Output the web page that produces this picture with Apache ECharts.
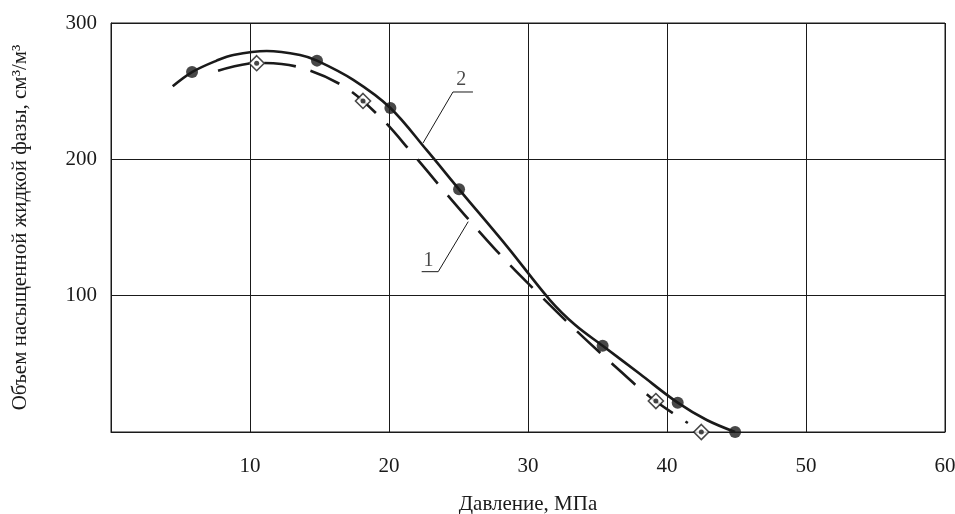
<!DOCTYPE html>
<html>
<head>
<meta charset="utf-8">
<script src="https://cdn.jsdelivr.net/npm/echarts@6/dist/echarts.min.js"></script>
<style>html,body{margin:0;padding:0;background:#fff}#c{width:955px;height:514px}</style>
</head>
<body>
<div id="c"></div>
<script>
// Curve 2 (solid) traced points [pressure, volume]
const curve2 = [[4.44,253.6],[5.83,264],[7.6,272.4],[8.8,276.6],[11.2,279.5],[13.6,276.6],[14.82,272.4],[17.43,258.3],[20.1,237.7],[22.7,206.9],[25.04,178],[28.5,136],[31.58,96.8],[33.4,78.5],[35.37,63.3],[38.06,42.5],[40.77,21.5],[42.86,8.8],[44.9,0]];
// Curve 1 (dashed) traced points
const curve1 = [[7.7,264.9],[10.5,270.7],[13.45,267.8],[16.7,253.8],[19.35,231.1],[21.65,204.7],[23.9,177.5],[26.2,150.4],[28.56,124],[31.0,99],[33.5,74.1],[36.0,50.6],[38.78,25.7],[41.5,6.6]];
// Measured points
const points2 = [[5.83,264],[14.82,272.4],[20.1,237.7],[25.04,178],[35.37,63.3],[40.77,21.5],[44.9,0]];
const points1 = [[10.48,270.5],[18.13,242.8],[39.2,22.7],[42.47,0]];
// Leader lines for curve labels
const leader2 = [[26.04,249.4],[24.6,249.4],[22.45,212]];
const leader1 = [[22.35,117.6],[23.54,117.6],[25.7,154.3]];
const labels = [[25.2,251,'2'],[22.85,118.5,'1']];
const xTicks = [10,20,30,40,50,60];
const yTicks = [100,200,300];

const font = 'Liberation Serif, Times New Roman, serif';
const ink = '#1a1a1a';
const chart = echarts.init(document.getElementById('c'));
chart.setOption({
  animation: false,
  backgroundColor: '#fff',
  grid: {left: 111, right: 10, top: 23, bottom: 82, containLabel: false, outerBoundsMode: 'none',
    show: true, borderColor: ink, borderWidth: 1},
  xAxis: {
    type: 'value', min: 0, max: 60, interval: 10,
    name: 'Давление, МПа', nameLocation: 'middle', nameGap: 62,
    nameTextStyle: {fontFamily: font, fontSize: 21, color: ink},
    axisLine: {lineStyle: {color: ink, width: 1}},
    axisTick: {show: false},
    axisLabel: {margin: 24, fontFamily: font, fontSize: 21, color: ink,
      formatter: v => xTicks.includes(v) ? String(v) : ''},
    splitLine: {show: true, lineStyle: {color: ink, width: 1}}
  },
  yAxis: {
    type: 'value', min: 0, max: 300, interval: 100,
    name: 'Объем насыщенной жидкой фазы, см³/м³', nameLocation: 'middle', nameGap: 80,
    nameTextStyle: {fontFamily: font, fontSize: 21, color: ink},
    axisLine: {show: true, lineStyle: {color: ink, width: 1}},
    axisTick: {show: false},
    axisLabel: {margin: 14, fontFamily: font, fontSize: 21, color: ink,
      formatter: v => yTicks.includes(v) ? String(v) : ''},
    splitLine: {show: true, lineStyle: {color: ink, width: 1}}
  },
  series: [
    {type: 'line', data: curve2, smooth: 0.35, showSymbol: false, clip: false,
      lineStyle: {color: ink, width: 2.6}, z: 3},
    {type: 'line', data: curve1, smooth: 0.35, showSymbol: false, clip: false,
      lineStyle: {color: ink, width: 2.6, type: [32, 15]}, z: 3},
    {type: 'scatter', data: points2, symbol: 'circle', symbolSize: 12, clip: false,
      itemStyle: {color: ink}, z: 5},
    {type: 'scatter', data: points1, symbol: 'diamond', symbolSize: 15, clip: false,
      itemStyle: {color: '#fff', borderColor: ink, borderWidth: 1.6}, z: 5},
    {type: 'scatter', data: points1, symbol: 'circle', symbolSize: 5, clip: false,
      itemStyle: {color: ink}, z: 6},
    {type: 'line', data: leader2, showSymbol: false, lineStyle: {color: ink, width: 1}, z: 4},
    {type: 'line', data: leader1, showSymbol: false, lineStyle: {color: ink, width: 1}, z: 4},
    {type: 'scatter', data: labels, symbolSize: 0, z: 7,
      label: {show: true, position: 'top', distance: 0, formatter: p => p.data[2],
        fontFamily: font, fontSize: 20, color: ink}}
  ]
});
</script>
</body>
</html>
